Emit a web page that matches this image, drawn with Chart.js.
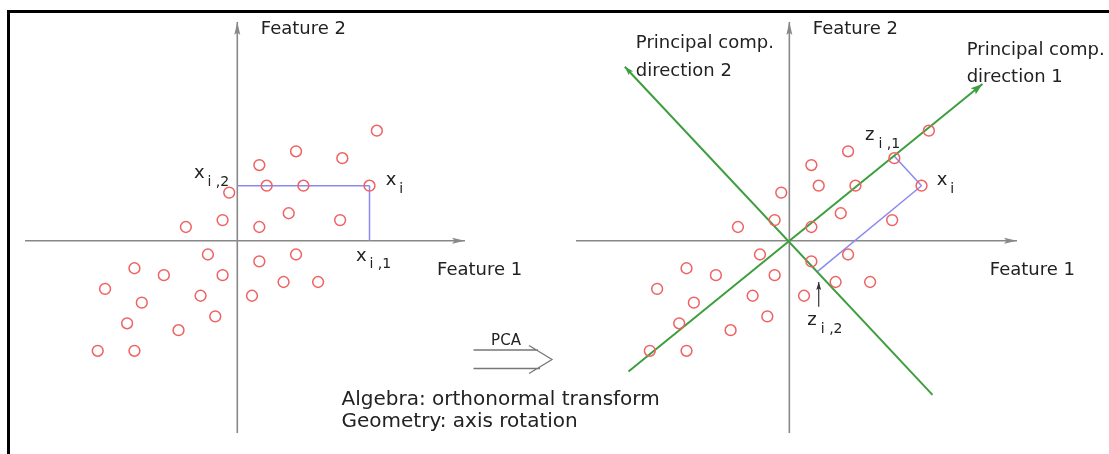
<!DOCTYPE html>
<html><head><meta charset="utf-8">
<script src="https://cdn.jsdelivr.net/npm/chart.js@4/dist/chart.umd.min.js"></script>
<style>
html,body{margin:0;padding:0;background:#fff;}
#wrap{position:relative;width:1109px;height:454px;overflow:hidden;background:#fff;}
#frame{position:absolute;left:7px;top:10px;width:1120px;height:460px;border-left:3px solid #000;border-top:3px solid #000;}
.cv{position:absolute;left:0;top:0;width:1109px;height:454px;}
</style></head><body>
<div id="wrap"><div id="frame"></div>
<div class="cv"><canvas id="c1" width="1109" height="454"></canvas></div>
<div class="cv"><canvas id="c2" width="1109" height="454"></canvas></div>
</div>
<script>
// ---- data (feature units) ----
const feature1 = [19, 8, 14.3, 3, 4, 9, 18, -1.1, 7, -2, 14, -7, 3, -4, 3, 8, -14, -10, -2, -18, 6.3, 11, -5, 2, -13, -3, -15, -8, -19, -14];
const feature2 = [16, 13, 12, 11, 8, 8, 8, 7, 4, 3, 3, 2, 2, -2, -3, -2, -4, -5, -5, -7, -6, -6, -8, -8, -9, -11, -12, -13, -16, -16];
const xi = [18, 8];
const xi1 = [18, 0];
const xi2 = [0, 8];
const pcDir1 = [[-21.9, -19.0], [26.3, 22.8]];
const pcDir2 = [[19.5, -22.4], [-22.4, 25.3]];
const zi1 = [14.3, 12.3];
const zi2 = [3.85, -4.45];
const zi2Pointer = [[4.0, -9.6], [4.0, -6.0]];
const leftRange = {xmin: -28.9, xmax: 31.0, ymin: -27.95, ymax: 31.8};
const rightRange = {xmin: -29.05, xmax: 31.0, ymin: -27.95, ymax: 31.8};
const leftLabels = [
  {t: 'Feature 2', x: 3.2, y: 30.04},
  {t: 'Feature 1', x: 27.2, y: -5.03},
  {main: 'x', sub: 'i ,2', x: -5.9, y: 9.07},
  {main: 'x', sub: 'i', x: 20.2, y: 8.1},
  {main: 'x', sub: 'i ,1', x: 16.16, y: -2.9}
];
const rightLabels = [
  {t: 'Feature 2', x: 3.2, y: 30.04},
  {t: 'Feature 1', x: 27.3, y: -5.03},
  {t: 'Principal comp.', x: -20.9, y: 28.05},
  {t: 'direction 2', x: -20.9, y: 23.9},
  {t: 'Principal comp.', x: 24.15, y: 27.0},
  {t: 'direction 1', x: 24.15, y: 23.1},
  {main: 'z', sub: 'i ,1', x: 10.3, y: 14.6},
  {main: 'x', sub: 'i', x: 20.07, y: 8.1},
  {main: 'z', sub: 'i ,2', x: 2.45, y: -12.25}
];
const captionLines = ['Algebra: orthonormal transform', 'Geometry: axis rotation'];
const arrowLabel = 'PCA';

// ---- styles ----
const FONT = '"DejaVu Sans", "Liberation Sans", Arial, sans-serif';
const TXT = '#222';
const AXIS = '#888888';
const PT = '#ee6262';
const BLUE = '#8a8af0';
const GREEN = '#3c9e3c';

const pts = feature1.map((v, i) => ({x: v, y: feature2[i]}));
const seg = (a, b) => [{x: a[0], y: a[1]}, {x: b[0], y: b[1]}];

function lineDs(data, color, width, arrow) {
  return {data, showLine: true, borderColor: color, borderWidth: width, pointRadius: 0,
          tension: 0, fill: false, clip: false, arrow};
}
function pointDs() {
  return {data: pts, showLine: false, pointRadius: 5.4, pointBorderWidth: 1.5,
          pointBorderColor: PT, pointBackgroundColor: 'rgba(0,0,0,0)', clip: false};
}
function axesDs(r) {
  return [
    lineDs(seg([r.xmin, 0], [r.xmax, 0]), AXIS, 1.6, {len: 13, half: 3, color: AXIS}),
    lineDs(seg([0, r.ymin], [0, r.ymax]), AXIS, 1.6, {len: 13, half: 3, color: AXIS})
  ];
}

const arrowPlugin = {
  id: 'arrowHeads',
  afterDatasetsDraw(chart) {
    const ctx = chart.ctx;
    chart.data.datasets.forEach((ds, i) => {
      if (!ds.arrow) return;
      const el = chart.getDatasetMeta(i).data;
      const a = el[el.length - 2], b = el[el.length - 1];
      const ang = Math.atan2(b.y - a.y, b.x - a.x);
      const {len, half, color} = ds.arrow;
      ctx.save();
      ctx.translate(b.x, b.y);
      ctx.rotate(ang);
      ctx.fillStyle = color;
      ctx.beginPath();
      ctx.moveTo(0, 0);
      ctx.lineTo(-len, -half);
      ctx.lineTo(-len * 0.8, 0);
      ctx.lineTo(-len, half);
      ctx.closePath();
      ctx.fill();
      ctx.restore();
    });
  }
};

const labelPlugin = {
  id: 'labels',
  afterDraw(chart, args, opts) {
    const ctx = chart.ctx;
    const sx = chart.scales.x, sy = chart.scales.y;
    ctx.save();
    ctx.fillStyle = TXT;
    ctx.textBaseline = 'alphabetic';
    ctx.textAlign = 'left';
    (opts.items || []).forEach(l => {
      const px = sx.getPixelForValue(l.x), py = sy.getPixelForValue(l.y);
      if (l.t) {
        ctx.font = '18px ' + FONT;
        ctx.fillText(l.t, px, py);
      } else {
        ctx.font = '18px ' + FONT;
        ctx.fillText(l.main, px, py);
        ctx.font = '14px ' + FONT;
        ctx.fillText(l.sub, px + 13.5, py + 7.5);
      }
    });
    if (opts.caption) {
      // PCA double arrow and caption between the panels
      ctx.strokeStyle = '#777';
      ctx.lineWidth = 1.3;
      ctx.beginPath();
      ctx.moveTo(473.5, 350); ctx.lineTo(538, 350);
      ctx.moveTo(473.5, 368.5); ctx.lineTo(540, 368.5);
      ctx.moveTo(529, 345.5); ctx.lineTo(552, 359.5); ctx.lineTo(529, 373.5);
      ctx.stroke();
      ctx.font = '15px ' + FONT;
      ctx.textAlign = 'center';
      ctx.fillText(arrowLabel, 506, 345);
      ctx.textAlign = 'left';
      ctx.font = '20px ' + FONT;
      ctx.fillText(captionLines[0], 341.5, 405);
      ctx.fillText(captionLines[1], 341.5, 426.5);
    }
    ctx.restore();
  }
};

function baseOptions(r, pad, items, caption) {
  return {
    responsive: false, animation: false, devicePixelRatio: 1, events: [],
    layout: {padding: pad},
    scales: {
      x: {type: 'linear', min: r.xmin, max: r.xmax, display: false},
      y: {type: 'linear', min: r.ymin, max: r.ymax, display: false}
    },
    plugins: {legend: {display: false}, tooltip: {enabled: false},
              labels: {items, caption}}
  };
}

new Chart(document.getElementById('c1'), {
  type: 'scatter',
  data: {datasets: [
    pointDs(),
    lineDs(seg(xi2, xi), BLUE, 1.5),
    lineDs(seg(xi, xi1), BLUE, 1.5),
    ...axesDs(leftRange)
  ]},
  options: baseOptions(leftRange, {left: 25, right: 644, top: 22, bottom: 21}, leftLabels, true),
  plugins: [arrowPlugin, labelPlugin]
});

new Chart(document.getElementById('c2'), {
  type: 'scatter',
  data: {datasets: [
    pointDs(),
    lineDs(seg(pcDir1[0], pcDir1[1]), GREEN, 2, {len: 12, half: 4, color: GREEN}),
    lineDs(seg(pcDir2[0], pcDir2[1]), GREEN, 2, {len: 9, half: 3, color: GREEN}),
    lineDs(seg(zi1, xi), BLUE, 1.5),
    lineDs(seg(xi, zi2), BLUE, 1.5),
    lineDs(seg(zi2Pointer[0], zi2Pointer[1]), '#333', 1.2, {len: 8, half: 2.5, color: '#333'}),
    ...axesDs(rightRange)
  ]},
  options: baseOptions(rightRange, {left: 576, right: 92, top: 22, bottom: 21}, rightLabels, false),
  plugins: [arrowPlugin, labelPlugin]
});
</script>
</body></html>
